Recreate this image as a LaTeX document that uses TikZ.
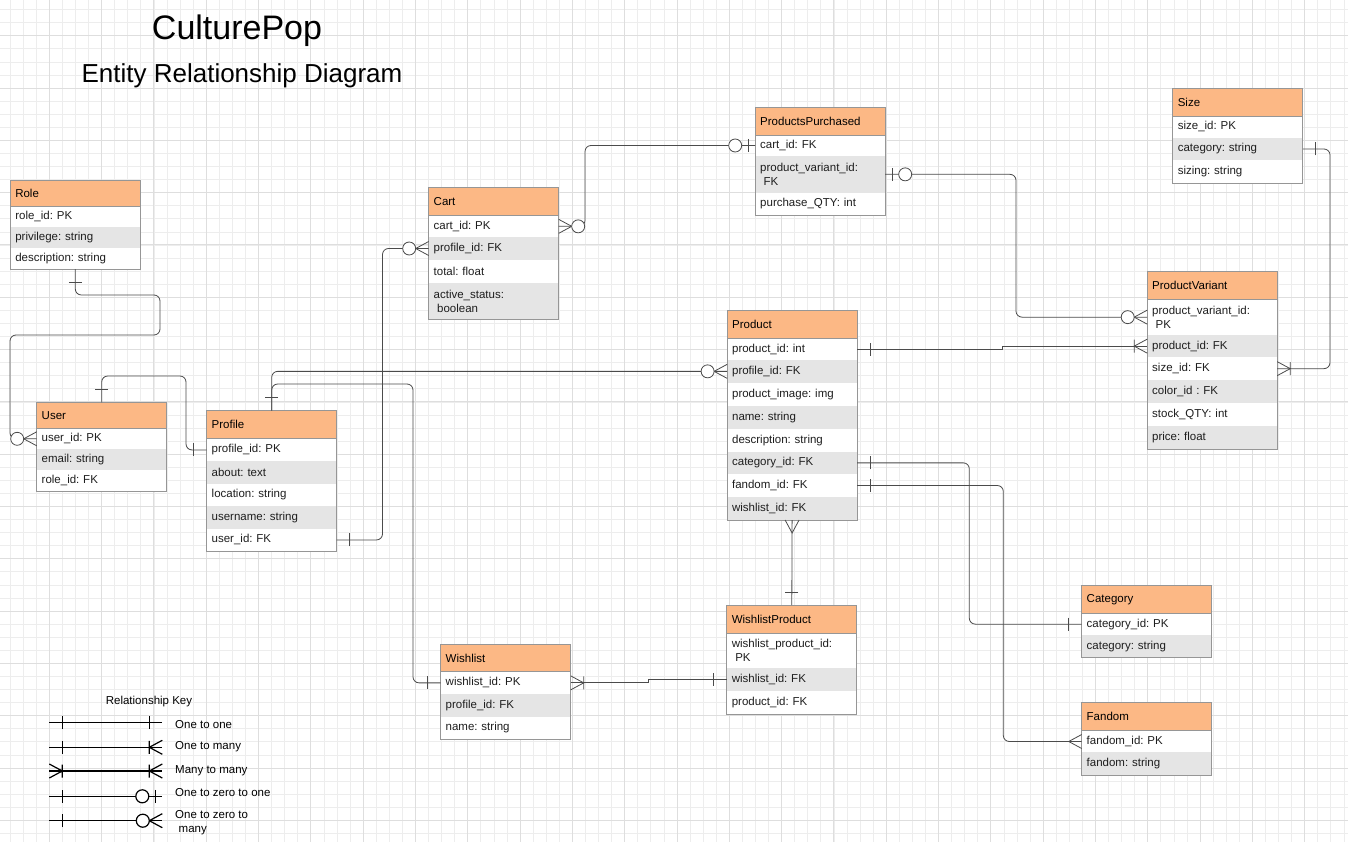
\documentclass[tikz,border=0pt]{standalone}
\usepackage{fontspec}
\setmainfont{Liberation Sans}
\usepackage{tikz}
\usepackage{xcolor}
\usetikzlibrary{positioning}

\definecolor{hdrorange}{RGB}{252,184,133}
\definecolor{rowgray}{RGB}{229,229,229}
\definecolor{tblgray}{RGB}{150,150,150}
\definecolor{linkgray}{RGB}{75,75,75}
\definecolor{textdark}{RGB}{30,30,30}
\definecolor{gridminorc}{RGB}{237,237,237}
\definecolor{gridmajorc}{RGB}{222,222,222}

\frenchspacing
\newcommand{\tblfont}{\fontsize{11.5}{14}\selectfont}

\tikzset{
  ermark/.style={draw=linkgray, line width=0.8pt},
  erone/.pic={\draw[ermark] (-13,-6.5) -- (-13,6.5);},
  ermany/.pic={\draw[ermark] (0,-7) -- (-13,0) -- (0,7);},
  eronemany/.pic={\draw[ermark] (-13,-6.5) -- (-13,6.5) (0,-7) -- (-13,0) -- (0,7);},
  erzeromany/.pic={\draw[ermark] (0,-7) -- (-13,0) -- (0,7);
    \draw[ermark, fill=white] (-19.5,0) circle[radius=6.5];},
  erzeroone/.pic={\draw[ermark] (-7,-6.5) -- (-7,6.5);
    \draw[ermark, fill=white] (-20,0) circle[radius=6.5];},
}

\begin{document}
\begin{tikzpicture}[x=1pt, y=-1pt,
    tblhead/.style={fill=hdrorange, anchor=north west, minimum height=#1, text width=120pt,
      inner xsep=5pt, inner ysep=0pt, outer sep=0pt, align=left, text=black, font=\tblfont},
    tblhead/.default=28,
    rowwhite/.style={fill=white, minimum height=#1, text width=120pt,
      inner xsep=5pt, inner ysep=0pt, outer sep=0pt, align=left, text=textdark, font=\tblfont},
    rowwhite/.default=22.5,
    rowgrey/.style={rowwhite=#1, fill=rowgray},
    rowgrey/.default=22.5,
    tblline/.style={draw=tblgray, line width=0.9pt},
    link/.style={draw=linkgray, line width=0.8pt, rounded corners=6pt},
    keytext/.style={font=\tblfont, inner sep=0pt, text=black},
    minorline/.style={draw=gridminorc, line width=0.6pt},
    majorline/.style={draw=gridmajorc, line width=0.8pt}]

  \useasboundingbox (0,0) rectangle (1348,842);
  \fill[white] (0,0) rectangle (1348,842);

  % grid paper
  \begin{scope}
    \clip (0,0) rectangle (1348,842);
    \foreach \i in {0,...,103}
      \draw[minorline] ({-3.1+13.077*\i},0) -- ++(0,842);
    \foreach \i in {0,...,66}
      \draw[minorline] (0,{-16.6+13.075*\i}) -- ++(1348,0);
    \foreach \i in {0,...,26}
      \draw[majorline] ({-3.1+52.31*\i},0) -- ++(0,842);
    \foreach \i in {0,...,17}
      \draw[majorline] (0,{-16.6+52.3*\i}) -- ++(1348,0);
  \end{scope}

  \node[font=\fontsize{34}{40}\selectfont, anchor=base, inner sep=0pt] (title) at (237,39.5) {CulturePop};
  \node[font=\fontsize{26}{30}\selectfont, anchor=base, inner sep=0pt] (subtitle) at (242,83) {Entity Relationship Diagram};

  % Role
  \node[tblhead=26] (role) at (10.3,180) {Role};
  \node[rowwhite=21, below=0pt of role] (role1) {role\_id: PK};
  \node[rowgrey=21, below=0pt of role1] (role2) {privilege: string};
  \node[rowwhite=21, below=0pt of role2] (role3) {description: string};

  % User
  \node[tblhead=26] (user) at (36.7,402.3) {User};
  \node[rowwhite=21, below=0pt of user] (user1) {user\_id: PK};
  \node[rowgrey=21, below=0pt of user1] (user2) {email: string};
  \node[rowwhite=21, below=0pt of user2] (user3) {role\_id: FK};

  % Profile
  \node[tblhead] (profile) at (206.7,410.7) {Profile};
  \node[rowwhite, below=0pt of profile] (profile1) {profile\_id: PK};
  \node[rowgrey, below=0pt of profile1] (profile2) {about: text};
  \node[rowwhite, below=0pt of profile2] (profile3) {location: string};
  \node[rowgrey, below=0pt of profile3] (profile4) {username: string};
  \node[rowwhite, below=0pt of profile4] (profile5) {user\_id: FK};

  % Cart
  \node[tblhead] (cart) at (428.7,187.7) {Cart};
  \node[rowwhite=21.3, below=0pt of cart] (cart1) {cart\_id: PK};
  \node[rowgrey=23, below=0pt of cart1] (cart2) {profile\_id: FK};
  \node[rowwhite=22.7, below=0pt of cart2] (cart3) {total: float};
  \node[rowgrey=36.6, below=0pt of cart3] (cart4) {active\_status:\\\hspace*{3.5pt}boolean};

  % ProductsPurchased
  \node[tblhead=27.7] (pp) at (755.2,107.3) {ProductsPurchased};
  \node[rowwhite=21, below=0pt of pp] (pp1) {cart\_id: FK};
  \node[rowgrey=36.7, below=0pt of pp1] (pp2) {product\_variant\_id:\\\hspace*{3.5pt}FK};
  \node[rowwhite=22.6, below=0pt of pp2] (pp3) {purchase\_QTY: int};

  % Size
  \node[tblhead=27.3] (size) at (1172.8,88.7) {Size};
  \node[rowwhite=21.7, below=0pt of size] (size1) {size\_id: PK};
  \node[rowgrey=22.6, below=0pt of size1] (size2) {category: string};
  \node[rowwhite=23, below=0pt of size2] (size3) {sizing: string};

  % ProductVariant
  \node[tblhead=27.6] (pv) at (1147.2,271.7) {ProductVariant};
  \node[rowwhite=35.7, below=0pt of pv] (pv1) {product\_variant\_id:\\\hspace*{3.5pt}PK};
  \node[rowgrey=22.3, below=0pt of pv1] (pv2) {product\_id: FK};
  \node[rowwhite=22.7, below=0pt of pv2] (pv3) {size\_id: FK};
  \node[rowgrey=22.7, below=0pt of pv3] (pv4) {color\_id : FK};
  \node[rowwhite=23.3, below=0pt of pv4] (pv5) {stock\_QTY: int};
  \node[rowgrey=23, below=0pt of pv5] (pv6) {price: float};

  % Product
  \node[tblhead] (product) at (727.1,310.3) {Product};
  \node[rowwhite=21.7, below=0pt of product] (product1) {product\_id: int};
  \node[rowgrey=22.7, below=0pt of product1] (product2) {profile\_id: FK};
  \node[rowwhite=23.3, below=0pt of product2] (product3) {product\_image: img};
  \node[rowgrey=22.7, below=0pt of product3] (product4) {name: string};
  \node[rowwhite=23, below=0pt of product4] (product5) {description: string};
  \node[rowgrey=22.3, below=0pt of product5] (product6) {category\_id: FK};
  \node[rowwhite=23, below=0pt of product6] (product7) {fandom\_id: FK};
  \node[rowgrey=23, below=0pt of product7] (product8) {wishlist\_id: FK};

  % WishlistProduct
  \node[tblhead=28.3] (wp) at (726.8,605) {WishlistProduct};
  \node[rowwhite=35, below=0pt of wp] (wp1) {wishlist\_product\_id:\\\hspace*{3.5pt}PK};
  \node[rowgrey=22.7, below=0pt of wp1] (wp2) {wishlist\_id: FK};
  \node[rowwhite=23.3, below=0pt of wp2] (wp3) {product\_id: FK};

  % Wishlist
  \node[tblhead=27.4] (wishlist) at (440.7,644.3) {Wishlist};
  \node[rowwhite=22.3, below=0pt of wishlist] (wishlist1) {wishlist\_id: PK};
  \node[rowgrey=22.7, below=0pt of wishlist1] (wishlist2) {profile\_id: FK};
  \node[rowwhite=22.6, below=0pt of wishlist2] (wishlist3) {name: string};

  % Category
  \node[tblhead] (category) at (1081.7,585.3) {Category};
  \node[rowwhite=21.7, below=0pt of category] (category1) {category\_id: PK};
  \node[rowgrey=22.3, below=0pt of category1] (category2) {category: string};

  % Fandom
  \node[tblhead] (fandom) at (1081.7,702.7) {Fandom};
  \node[rowwhite=21.6, below=0pt of fandom] (fandom1) {fandom\_id: PK};
  \node[rowgrey=22.7, below=0pt of fandom1] (fandom2) {fandom: string};

  \foreach \t/\l in {role/role3, user/user3, profile/profile5, cart/cart4, pp/pp3, size/size3,
      pv/pv6, product/product8, wp/wp3, wishlist/wishlist3, category/category2, fandom/fandom2}
    \draw[tblline] (\t.north west) rectangle (\l.south east) (\t.south west) -- (\t.south east);

  % relationships
  \draw[link] (role3.south) |- (160,295) |- (10,335) |- (user1.west);
  \draw[link] (user.north) |- (186,376) |- (profile1.west);
  \draw[link] (profile5.east) -| (382.5,300) |- (cart2.west);
  \draw[link] (cart1.east) -| (585,180) |- (pp1.west);
  \draw[link] (pp2.east) -| (1016,250) |- (pv1.west);
  \draw[link, sharp corners] (product1.east) -| (1002,348) |- (pv2.west);
  \draw[link] (size2.east) -| (1330,260) |- (pv3.east);
  \draw[link] (profile.north) |- (product2.west);
  \draw[link] (profile.north) |- (413,384) |- (wishlist1.west);
  \draw[link, sharp corners] (wishlist1.east) -| (648,682) |- (wp2.west);
  \draw[link] (product8.south) -- (wp.north);
  \draw[link] (product6.east) -| (969.3,550) |- (category1.west);
  \draw[link] (product7.east) -| (1003.3,600) |- (fandom1.west);

  \pic[rotate=90] at (role3.south) {erone};
  \pic at (user1.west) {erzeromany};
  \pic[rotate=-90] at (user.north) {erone};
  \pic at (profile1.west) {erone};
  \pic[rotate=180] at (profile5.east) {erone};
  \pic at (cart2.west) {erzeromany};
  \pic[rotate=180] at (cart1.east) {erzeromany};
  \pic at (pp1.west) {erzeroone};
  \pic[rotate=180] at (pp2.east) {erzeroone};
  \pic at (pv1.west) {erzeromany};
  \pic[rotate=180] at (product1.east) {erone};
  \pic at (pv2.west) {eronemany};
  \pic[rotate=180] at (size2.east) {erone};
  \pic[rotate=180] at (pv3.east) {eronemany};
  \pic[rotate=-90] at (profile.north) {erone};
  \pic at (product2.west) {erzeromany};
  \pic at (wishlist1.west) {erone};
  \pic[rotate=180] at (wishlist1.east) {eronemany};
  \pic at (wp2.west) {erone};
  \pic[rotate=90] at (product8.south) {ermany};
  \pic[rotate=-90] at (wp.north) {erone};
  \pic[rotate=180] at (product6.east) {erone};
  \pic at (category1.west) {erone};
  \pic[rotate=180] at (product7.east) {erone};
  \pic at (fandom1.west) {ermany};

  % relationship key
  \node[keytext] (keytitle) at (149,701.7) {Relationship Key};
  \foreach \y/\k in {722.3/ka, 747.3/kb, 771/kc, 796.3/kd, 820.7/ke}{
    \coordinate (\k l) at (49.3,\y);
    \coordinate (\k r) at (162.3,\y);
    \draw[draw=black, line width=1.2pt] (\k l) -- (\k r);
  }
  \begin{scope}[ermark/.style={draw=black, line width=1.2pt}]
    \pic[rotate=180] at (kal) {erone};
    \pic at (kar) {erone};
    \pic[rotate=180] at (kbl) {erone};
    \pic at (kbr) {eronemany};
    \pic[rotate=180] at (kcl) {eronemany};
    \pic at (kcr) {eronemany};
    \pic[rotate=180] at (kdl) {erone};
    \pic at (kdr) {erzeroone};
    \pic[rotate=180] at (kel) {erone};
    \pic at (ker) {erzeromany};
  \end{scope}
  \node[keytext, anchor=west] (kla) at (175,725) {One to one};
  \node[keytext, anchor=west] (klb) at (175,746.7) {One to many};
  \node[keytext, anchor=west] (klc) at (175,771) {Many to many};
  \node[keytext, anchor=west] (kld) at (175,792.3) {One to zero to one};
  \node[keytext, anchor=west, align=left] (kle) at (175,822.4) {One to zero to\\\hspace*{3.5pt}many};
\end{tikzpicture}
\end{document}
